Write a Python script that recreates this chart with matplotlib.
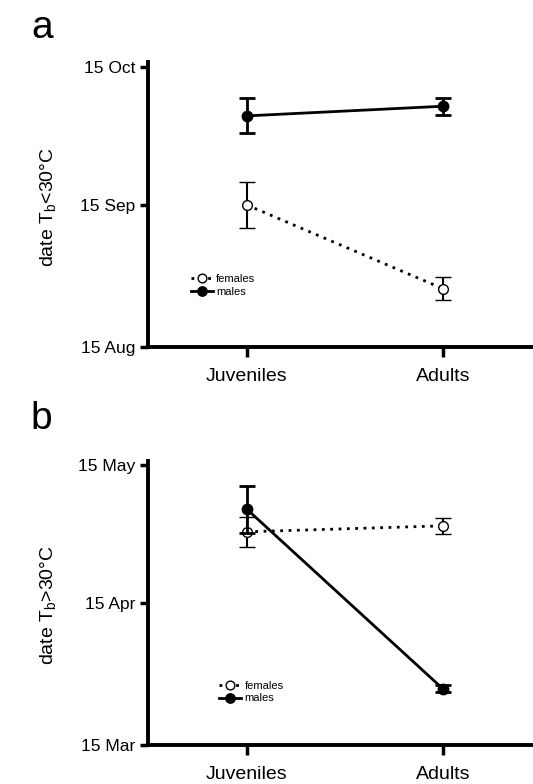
import matplotlib.pyplot as plt

plt.rcParams['font.family'] = ['Liberation Sans', 'DejaVu Sans']

groups = ['Juveniles', 'Adults']

# panel a: days after 15 Aug
a_ticks = [0, 31, 61]
a_ticklabels = ['15 Aug', '15 Sep', '15 Oct']
a_fem = [30.9, 12.7]
a_fem_err = [5.1, 2.5]
a_mal = [50.3, 52.4]
a_mal_err = [3.8, 1.9]

# panel b: days after 15 Mar
b_ticks = [0, 31, 61]
b_ticklabels = ['15 Mar', '15 Apr', '15 May']
b_fem = [46.5, 47.8]
b_fem_err = [3.3, 1.8]
b_mal = [51.4, 12.3]
b_mal_err = [5.1, 0.8]


def panel(ax, fem, fem_err, mal, mal_err, ticks, ticklabels, ylabel, leg_xy):
    x = range(len(groups))
    ax.errorbar(x, fem, yerr=fem_err, color='black', linestyle=(0, (1, 2)), lw=2,
                marker='o', ms=7, mfc='white', mec='black', mew=1,
                capsize=6, elinewidth=1.5, capthick=1.5, label='females', zorder=3)
    ax.errorbar(x, mal, yerr=mal_err, color='black', linestyle='-', lw=2,
                marker='o', ms=7.5, mfc='black', mec='black',
                capsize=6, elinewidth=2, capthick=2, label='males', zorder=4)
    ax.set_xlim(-0.505, 1.46)
    ax.set_ylim(0, 61)
    ax.set_xticks(list(x))
    ax.set_xticklabels(groups, fontsize=14)
    ax.set_yticks(ticks)
    ax.set_yticklabels(ticklabels, fontsize=12.5)
    ax.set_ylabel(ylabel, fontsize=14)
    ax.yaxis.set_label_coords(-0.232, 0.5)
    for s in ['top', 'right']:
        ax.spines[s].set_visible(False)
    for s in ['left', 'bottom']:
        ax.spines[s].set_linewidth(2.8)
    ax.spines['left'].set_bounds(0, 62)
    ax.tick_params(axis='y', length=6, width=2.5, pad=3)
    ax.tick_params(axis='x', length=7, width=2.5, pad=8)
    handles, labels = ax.get_legend_handles_labels()
    handles = [h[0] for h in handles]
    ax.legend(handles, labels, loc='center left', bbox_to_anchor=leg_xy, frameon=False,
              fontsize=8, handlelength=2.0, handletextpad=0.3, labelspacing=0.25,
              borderpad=0, markerscale=0.9)


fig = plt.figure(figsize=(5.33, 7.84), dpi=100)
ax1 = fig.add_axes([0.2777, 0.5574, 0.7223, 0.3575])
ax2 = fig.add_axes([0.2777, 0.0494, 0.7223, 0.3572])

panel(ax1, a_fem, a_fem_err, a_mal, a_mal_err, a_ticks, a_ticklabels,
      r'date T$_\mathregular{b}$<30°C', (0.096, 0.22))
panel(ax2, b_fem, b_fem_err, b_mal, b_mal_err, b_ticks, b_ticklabels,
      r'date T$_\mathregular{b}$>30°C', (0.17, 0.19))

fig.text(0.058, 0.9515, 'a', fontsize=28, va='baseline', ha='left')
fig.text(0.058, 0.4528, 'b', fontsize=28, va='baseline', ha='left')

fig.savefig('out.png', dpi=100)
